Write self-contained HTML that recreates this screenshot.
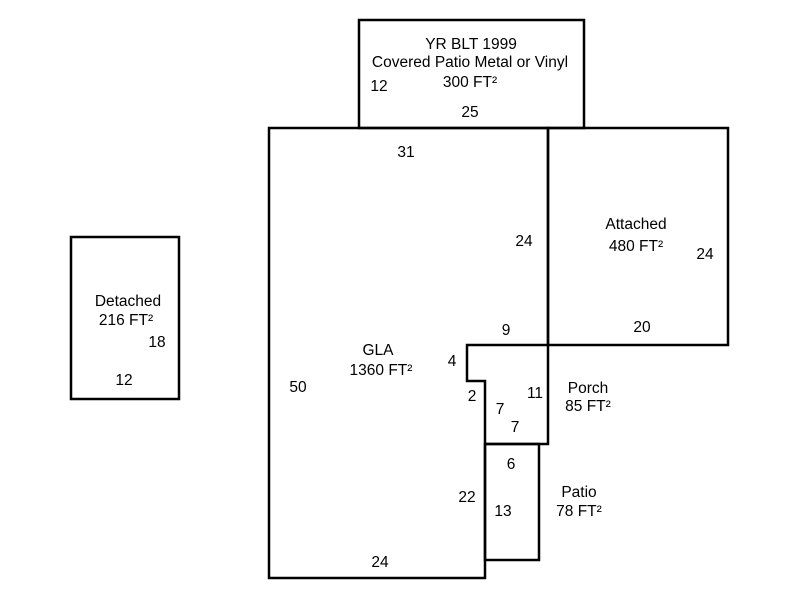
<!DOCTYPE html>
<html><head><style>
body{margin:0;background:#fff;}
svg{display:block}
text{font-family:"Liberation Sans",Arial,sans-serif;font-size:15.5px;fill:#000;text-anchor:middle}
</style></head><body>
<svg width="800" height="600" viewBox="0 0 800 600">
<g fill="none" stroke="#000" stroke-width="2.5" stroke-linejoin="miter">
<rect x="359" y="20" width="225" height="108"/>
<polygon points="269,128 548,128 548,345 467,345 467,381 485,381 485,578 269,578"/>
<rect x="548" y="128" width="180" height="217"/>
<polyline points="548,345 548,444 485,444"/>
<rect x="485" y="444" width="54" height="116"/>
<rect x="71" y="237" width="108" height="162"/>
</g>
<text x="471" y="49">YR BLT 1999</text>
<text x="470" y="67">Covered Patio Metal or Vinyl</text>
<text x="470" y="87">300 FT²</text>
<text x="379" y="91">12</text>
<text x="470" y="117">25</text>
<text x="406" y="157">31</text>
<text x="524" y="246">24</text>
<text x="636" y="229">Attached</text>
<text x="636" y="251">480 FT²</text>
<text x="705" y="259">24</text>
<text x="642" y="332">20</text>
<text x="506" y="335">9</text>
<text x="378" y="355">GLA</text>
<text x="381" y="375">1360 FT²</text>
<text x="298" y="392">50</text>
<text x="452" y="366">4</text>
<text x="472" y="401">2</text>
<text x="535" y="398">11</text>
<text x="500" y="414">7</text>
<text x="515" y="432">7</text>
<text x="588" y="393">Porch</text>
<text x="588" y="411">85 FT²</text>
<text x="511" y="469">6</text>
<text x="467" y="502">22</text>
<text x="503" y="516">13</text>
<text x="579" y="497">Patio</text>
<text x="579" y="516">78 FT²</text>
<text x="380" y="567">24</text>
<text x="128" y="306">Detached</text>
<text x="126" y="325">216 FT²</text>
<text x="157" y="347">18</text>
<text x="124" y="385">12</text>
</svg>
</body></html>
